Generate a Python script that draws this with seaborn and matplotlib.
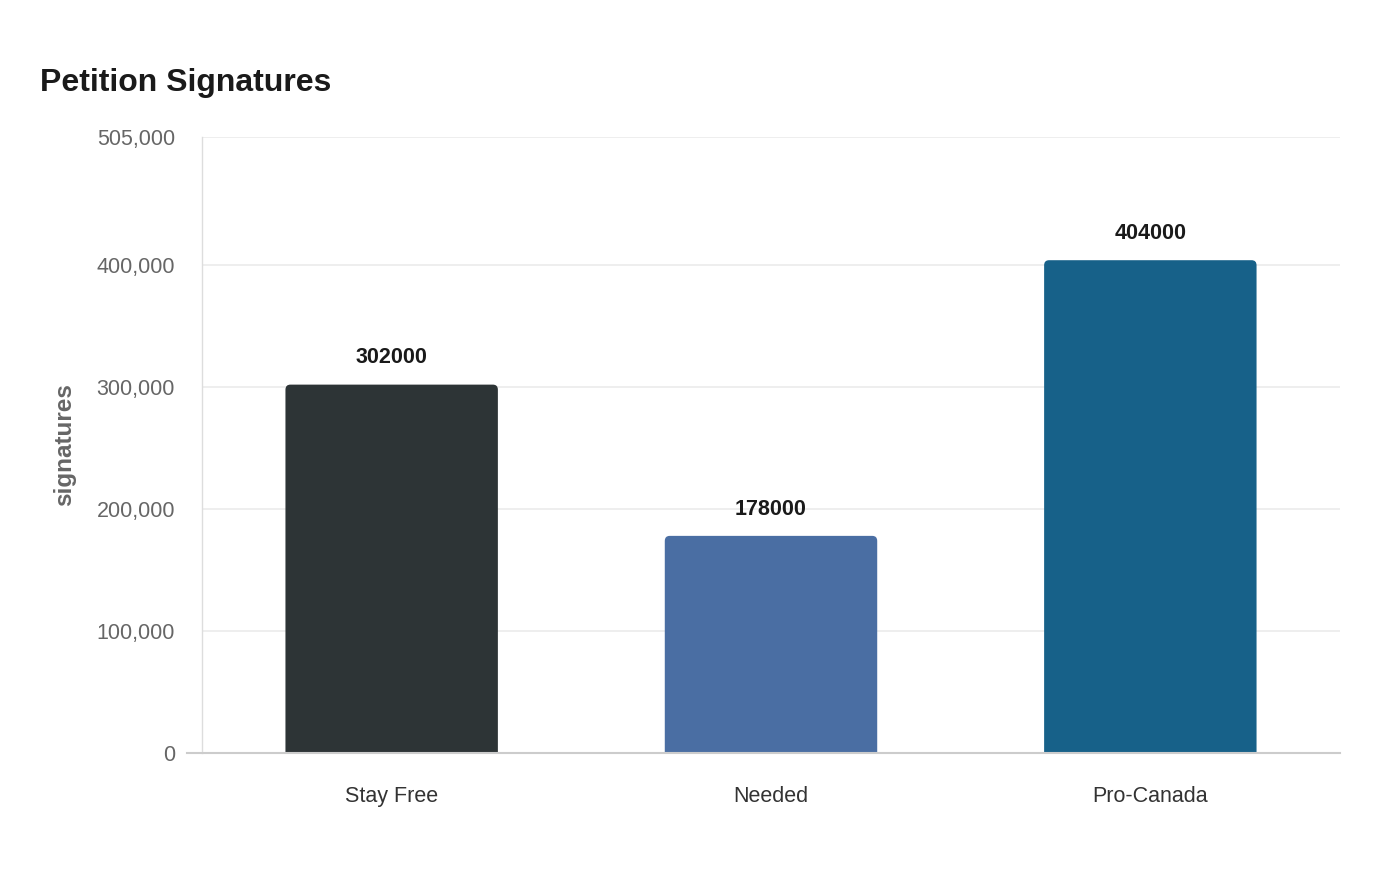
from matplotlib import pyplot as plt
from matplotlib.patches import FancyBboxPatch
from matplotlib.ticker import FuncFormatter
import pandas as pd
import seaborn as sns

# data
categories = ["Stay Free", "Needed", "Pro-Canada"]
signatures = [302000, 178000, 404000]
bar_colors = ["#2d3436", "#4a6ea3", "#176189"]
y_ticks = [0, 100000, 200000, 300000, 400000, 505000]

df = pd.DataFrame({"group": categories, "signatures": signatures})

sns.set_style("white")
plt.rcParams["font.family"] = ["Liberation Sans", "DejaVu Sans"]

fig, ax = plt.subplots(figsize=(14, 8.8), dpi=100)
fig.subplots_adjust(left=202 / 1400, right=1340 / 1400, top=1 - 137 / 880, bottom=1 - 753 / 880)

sns.barplot(data=df, x="group", y="signatures", hue="group", palette=bar_colors,
            width=0.56, legend=False, ax=ax, saturation=1)

# bars with rounded top corners + value labels
for patch in list(ax.patches):
    x, w, h = patch.get_x(), patch.get_width(), patch.get_height()
    rounded = FancyBboxPatch((x, -20000), w, h + 20000,
                             boxstyle="round,pad=0,rounding_size=0.013",
                             mutation_aspect=320000,
                             facecolor=patch.get_facecolor(), edgecolor="none", zorder=2)
    ax.add_patch(rounded)
    patch.remove()
    ax.annotate(str(int(h)), (x + w / 2, h), xytext=(0, 11.7), textcoords="offset points",
                ha="center", va="bottom", fontsize=15.5, fontweight="bold", color="#1a1a1a")

ax.set_ylim(0, 505000)
ax.set_xlim(-0.5, 2.5)
ax.set_yticks(y_ticks)
ax.yaxis.set_major_formatter(FuncFormatter(lambda v, p: f"{int(v):,}"))
ax.grid(axis="y", color="#ebebeb", linewidth=1.2)
ax.set_axisbelow(True)

ax.tick_params(axis="y", length=10.8, width=1.2, color="#ebebeb", labelsize=15.5,
               labelcolor="#666666", pad=8.6)
ax.tick_params(axis="x", length=0, labelsize=15.5, labelcolor="#333333", pad=24)

for side in ["top", "right"]:
    ax.spines[side].set_visible(False)
ax.spines["left"].set_color("#dddddd")
ax.spines["left"].set_linewidth(1)
ax.spines["bottom"].set_color("#cccccc")
ax.spines["bottom"].set_linewidth(1.5)
ax.spines["bottom"].set_bounds(-0.5 - 15 / 379, 2.5)

ax.set_xlabel("")
ax.set_ylabel("signatures", fontsize=17.5, fontweight="bold", color="#666666", labelpad=15)

fig.text(40 / 1400, 1 - 83 / 880, "Petition Signatures", fontsize=23, fontweight="bold",
         color="#1a1a1a", ha="left", va="center")

plt.savefig("out.png", dpi=100)
plt.close(fig)
